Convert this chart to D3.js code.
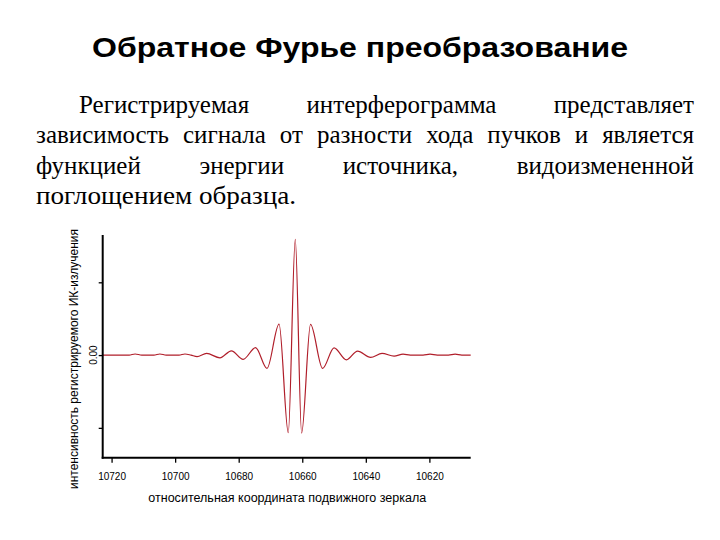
<!DOCTYPE html>
<html>
<head>
<meta charset="utf-8">
<script src="https://cdn.jsdelivr.net/npm/d3@7"></script>
<style>
  html, body { margin: 0; padding: 0; background: #fff; }
  svg { display: block; }
</style>
</head>
<body>
<svg id="chart" width="720" height="540"></svg>
<script>
// ---- data ----
const titleText = "Обратное Фурье преобразование";
const paragraphLines = [
  "Регистрируемая интерферограмма представляет",
  "зависимость сигнала от разности хода пучков и является",
  "функцией энергии источника, видоизмененной",
  "поглощением образца."
];
const xTitle = "относительная координата подвижного зеркала";
const yTitle = "интенсивность регистрируемого ИК-излучения";
const xTickValues = [10720, 10700, 10680, 10660, 10640, 10620];
const yTickValues = [-1, 0, 1];
const yTickLabel = "0.00";
// mirror coordinate (x) and recorded intensity (y)
const mirrorPos = [
  10722.7, 10714.5, 10712.6, 10710.5, 10706.7, 10704.8, 10702.8, 10698.8, 10696.9, 10695.0,
  10693.1, 10690.1, 10685.9, 10682.3, 10678.6, 10674.7, 10671.1, 10667.3, 10664.4, 10662.2,
  10660.2, 10657.4, 10653.6, 10650.0, 10646.1, 10642.6, 10638.5, 10634.9, 10631.1, 10628.3,
  10626.0, 10622.0, 10619.8, 10617.5, 10614.0, 10611.9, 10609.8, 10607.0
];
const intensity = [
  0, 0, 0.015, 0, 0, 0.015, 0, 0, 0.015, 0,
  -0.02, 0.023, -0.037, 0.059, -0.059, 0.103, -0.183, 0.426, -1.067, 1.589,
  -1.071, 0.422, -0.183, 0.100, -0.065, 0.055, -0.032, 0.023, -0.015, 0.013,
  0, 0, 0.013, 0, 0, 0.013, 0, 0
];

const svg = d3.select("#chart");

// ---- title ----
svg.append("text")
  .attr("x", 92).attr("y", 56.7)
  .attr("textLength", 536).attr("lengthAdjust", "spacingAndGlyphs")
  .style("font-family", "'Liberation Sans', Arial, sans-serif")
  .style("font-weight", "bold")
  .style("font-size", "27px")
  .attr("fill", "#000")
  .text(titleText);

// ---- justified paragraph ----
const parLeft = 36, parRight = 694, indent = 79;
const baselines = [112.5, 143, 173.5, 204];
paragraphLines.forEach((line, i) => {
  const words = line.split(" ");
  const g = svg.append("text")
    .attr("y", baselines[i])
    .style("font-family", "'Liberation Serif', 'Times New Roman', serif")
    .style("font-size", "25px")
    .attr("fill", "#000");
  const last = i === paragraphLines.length - 1;
  if (last) {
    g.attr("x", parLeft).attr("textLength", 260).attr("lengthAdjust", "spacingAndGlyphs").text(line);
    return;
  }
  const spans = words.map(w => g.append("tspan").attr("y", baselines[i]).text(w));
  const widths = spans.map(s => s.node().getComputedTextLength());
  const start = i === 0 ? indent : parLeft;
  const total = d3.sum(widths);
  const gap = (parRight - start - total) / (words.length - 1);
  let xPos = start;
  spans.forEach((s, k) => { s.attr("x", xPos); xPos += widths[k] + gap; });
});

// ---- chart ----
const x = d3.scaleLinear().domain([10722.7, 10607]).range([103, 470.7]);
const y = d3.scaleLinear().domain([-1.41, 1.65]).range([457.7, 235]);

const data = mirrorPos.map((p, i) => ({ p, v: intensity[i] }));

svg.append("path")
  .datum(data)
  .attr("fill", "none")
  .attr("stroke", "#b01e2a")
  .attr("stroke-width", 1.2)
  .attr("stroke-linejoin", "round")
  .attr("d", d3.line().x(d => x(d.p)).y(d => y(d.v)).curve(d3.curveMonotoneX));

// x axis
const xAxisG = svg.append("g")
  .attr("transform", "translate(0,457.7)")
  .call(d3.axisBottom(x).tickValues(xTickValues).tickSize(5).tickSizeOuter(0).tickPadding(10)
        .tickFormat(d3.format("d")));
xAxisG.select(".domain").attr("stroke", "#000").attr("stroke-width", 2)
  .attr("d", `M${101.7},0H${470.7}`);
xAxisG.selectAll(".tick line").attr("stroke", "#000").attr("stroke-width", 1.3);
xAxisG.selectAll(".tick text")
  .style("font-family", "'Liberation Sans', Arial, sans-serif")
  .style("font-size", "10px").attr("fill", "#000");

// y axis
const yAxisG = svg.append("g")
  .attr("transform", "translate(102.7,0)")
  .call(d3.axisLeft(y).tickValues(yTickValues).tickSize(4).tickSizeOuter(0).tickFormat(""));
yAxisG.select(".domain").attr("stroke", "#000").attr("stroke-width", 2)
  .attr("d", `M0,${235}V${458.7}`);
yAxisG.selectAll(".tick line").attr("stroke", "#000").attr("stroke-width", 1.3);

// rotated 0.00 label
svg.append("text")
  .attr("transform", `translate(93,${y(0)}) rotate(-90)`)
  .attr("text-anchor", "middle")
  .attr("dy", "0.35em")
  .style("font-family", "'Liberation Sans', Arial, sans-serif")
  .style("font-size", "10px")
  .attr("fill", "#000")
  .text(yTickLabel);

// axis titles
svg.append("text")
  .attr("x", 148.3).attr("y", 502)
  .attr("textLength", 278).attr("lengthAdjust", "spacingAndGlyphs")
  .style("font-family", "'Liberation Sans', Arial, sans-serif")
  .style("font-size", "12.5px")
  .attr("fill", "#000")
  .text(xTitle);

svg.append("text")
  .attr("transform", "translate(77.5,489) rotate(-90)")
  .attr("textLength", 260).attr("lengthAdjust", "spacingAndGlyphs")
  .style("font-family", "'Liberation Sans', Arial, sans-serif")
  .style("font-size", "12.5px")
  .attr("fill", "#000")
  .text(yTitle);
</script>
</body>
</html>
